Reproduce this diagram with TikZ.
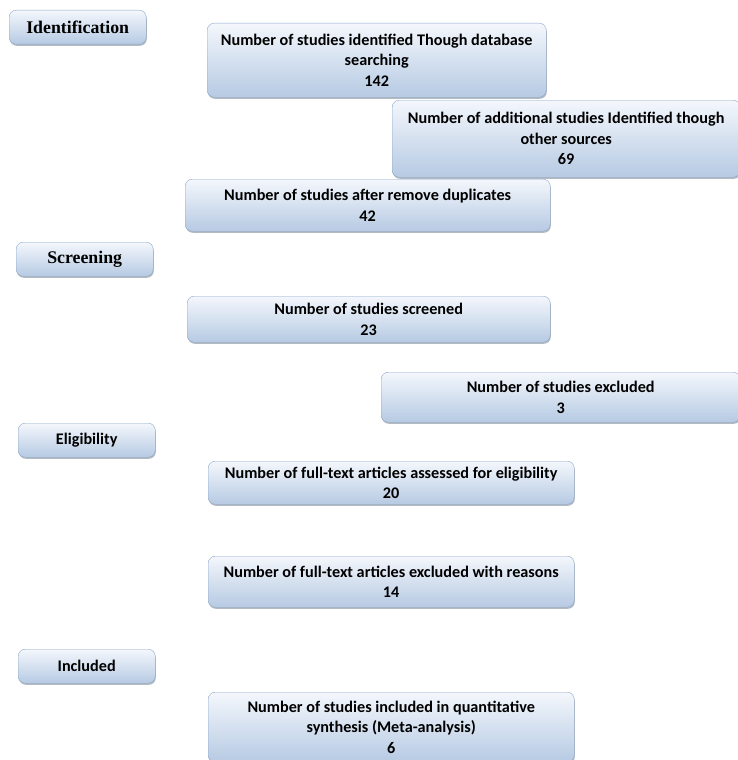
\documentclass[tikz,border=0pt]{standalone}
\usepackage{fontspec}
\setmainfont{Carlito}
\newfontfamily\stagefont{Liberation Serif}
\usetikzlibrary{positioning,shadows}
\definecolor{boxtop}{HTML}{F4F7FC}
\definecolor{boxbot}{HTML}{B6CAE3}
\definecolor{boxedge}{HTML}{8EA8C9}

\begin{document}
\begin{tikzpicture}[x=1pt, y=-1pt,
  box/.style={draw=boxedge, rounded corners=7pt, top color=boxtop, bottom color=boxbot, align=center, anchor=north west, inner sep=0pt, font=\fontsize{16.2}{20.5}\selectfont\bfseries, drop shadow={shadow xshift=0.6pt, shadow yshift=-1.6pt, fill=boxedge!60!black, opacity=0.45}},
  stage/.style={box, minimum width=137pt, minimum height=34pt},
  serifstage/.style={stage, font=\fontsize{17.8}{20}\selectfont\stagefont\bfseries}
]
\useasboundingbox (0,0) rectangle (738,760);
% stage labels
\node[serifstage] (ident) at (9,10) {Identification};
\node[serifstage] (scr) at (16,242) {Screening};
\node[stage] (elig) at (18,423) {Eligibility};
\node[stage] (incl) at (18,649) {Included};
% flow boxes
\node[box, minimum width=339pt, minimum height=74pt] (found) at (207,23) {Number of studies identified Though database\\searching\\142};
\node[box, minimum width=348pt, minimum height=77pt] (other) at (392,100) {Number of additional studies Identified though\\other sources\\69};
\node[box, minimum width=365pt, minimum height=52pt] (dup) at (185,179) {Number of studies after remove duplicates\\42};
\node[box, minimum width=363pt, minimum height=46pt] (screened) at (187,296) {Number of studies screened\\23};
\node[box, minimum width=359pt, minimum height=50pt] (excl) at (381,372) {Number of studies excluded\\3};
\node[box, minimum width=366pt, minimum height=43pt] (full) at (208,461) {Number of full-text articles assessed for eligibility\\20};
\node[box, minimum width=366pt, minimum height=51pt] (reason) at (208,556) {Number of full-text articles excluded with reasons\\14};
\node[box, minimum width=366pt, minimum height=70pt] (meta) at (208,692) {Number of studies included in quantitative\\synthesis (Meta-analysis)\\6};
\end{tikzpicture}
\end{document}
